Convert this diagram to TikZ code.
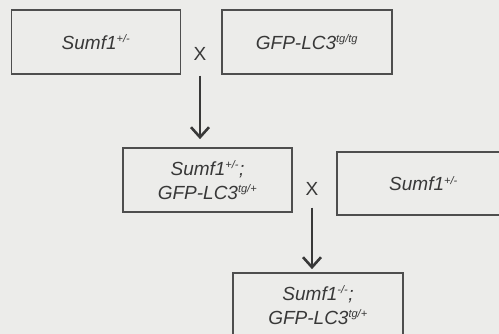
\documentclass[tikz,border=0pt]{standalone}
\usepackage{fontspec}
\setmainfont{Liberation Sans}
\usepackage{tikz}
\usetikzlibrary{arrows.meta, positioning}
\definecolor{nen}{HTML}{ECECEA}
\definecolor{vien}{HTML}{4E4E4E}
\definecolor{chu}{HTML}{383838}
\newcommand{\muso}[1]{\textsuperscript{\fontsize{11}{11}\selectfont #1}}

\begin{document}
\begin{tikzpicture}[x=1pt, y=-1pt,
    hop/.style={draw=vien, line width=1.7pt, minimum width=169pt, minimum height=64pt,
        inner sep=0pt, align=center, text=chu, font=\fontsize{19}{24}\selectfont\itshape},
    dauX/.style={inner sep=0pt, text=chu, font=\fontsize{19}{20}\selectfont},
    muiten/.style={draw=chu, line width=2.6pt, -{Straight Barb[length=10pt, width=18pt, line width=2.6pt]}}]

            % Nền và khung hình
            \fill[nen] (0,0) rectangle (499,334);
            \clip (0,0) rectangle (499,334);
            
            % Thế hệ thứ nhất
            \node[hop] (bo) at (96,42) {Sumf1\muso{+/-}};                       % Hộp Sumf1
            \node[hop, minimum width=170pt] (me) at (307,42) {GFP-LC3\muso{tg/tg}}; % Hộp GFP
            \node[dauX] (lai1) at (200,54) {X};                                  % Dấu lai 1
            
            % Thế hệ thứ hai
            \node[hop] (con1) at (207.5,180) {Sumf1\muso{+/-};\\GFP-LC3\muso{tg/+}};
            \node[hop, minimum width=173pt, minimum height=63pt] (bo2) at (423.5,183.5) {Sumf1\muso{+/-}};
            \node[dauX] (lai2) at (312,189) {X};                                 % Dấu lai 2
            
            % Thế hệ thứ ba
            \node[hop, minimum width=170pt] (con2) at (318,305) {Sumf1\muso{-/-};\\GFP-LC3\muso{tg/+}};
            
            % Các mũi tên
            \draw[muiten, shorten <=15pt, shorten >=8pt] (lai1.south) -- (con1.north -| lai1);
            \draw[muiten, shorten <=12pt, shorten >=3pt] (lai2.south) -- (con2.north -| lai2);
            
\end{tikzpicture}
\end{document}
